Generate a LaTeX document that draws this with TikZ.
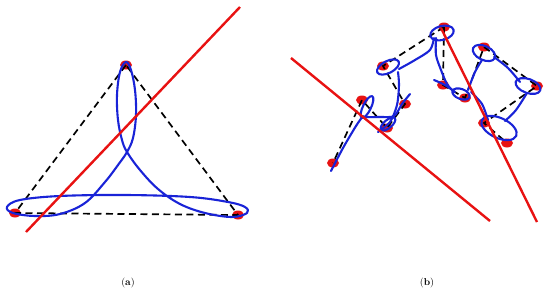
\documentclass[tikz,border=0pt]{standalone}
\usetikzlibrary{shapes.geometric}
\definecolor{cblue}{RGB}{25,35,215}
\definecolor{cred}{RGB}{232,18,18}
\begin{document}
\begin{tikzpicture}[x=1pt,y=-1pt,
  vdot/.style={ellipse, fill=cred, minimum width=12pt, minimum height=9pt, inner sep=0pt},
  edge/.style={black, line width=1.7pt, dash pattern=on 7pt off 4.5pt},
  curve/.style={cblue, line width=2.1pt, line join=round, line cap=round},
  axisline/.style={cred, line width=2.4pt},
  lab/.style={font=\normalsize, inner sep=0pt}]
\useasboundingbox (0,0) rectangle (550,295);

% ---------------- panel (a)
\node[vdot] (a1) at (126,65) {};
\node[vdot] (a2) at (15,213) {};
\node[vdot] (a3) at (238,215) {};
\draw[edge] (a1.center) -- (a2.center) -- (a3.center) -- cycle;
\draw[curve] plot[smooth cycle, tension=0.6] coordinates {
 (126,62) (120,72) (117,95) (118,120) (122,140) (127,152) (140,170) (158,189)
 (180,204) (205,213) (232,217) (247,213) (245,207) (228,202) (190,197)
 (126,195) (60,196) (20,200) (7,207) (13,213) (35,216) (60,214) (85,203)
 (105,182) (118,165) (127,152) (133,138) (136,115) (135,90) (131,70)};
\coordinate (ra1) at (26,232);
\coordinate (ra2) at (240,7);
\draw[axisline] (ra1) -- (ra2);
\node[lab] (la) at (128,283) {(\textbf{a})};

% ---------------- panel (b)
\node[vdot] (A) at (444,27) {};
\node[vdot] (B) at (383,66) {};
\node[vdot] (C) at (362,100) {};
\node[vdot] (D) at (333,163) {};
\node[vdot] (E) at (387,128) {};
\node[vdot] (F) at (405,104) {};
\node[vdot] (G) at (443,85) {};
\node[vdot] (H) at (465,98) {};
\node[vdot] (I) at (484,47) {};
\node[vdot] (J) at (537,86) {};
\node[vdot] (K) at (484,123) {};
\node[vdot] (L) at (507,143) {};
\draw[edge] (A.center) -- (B.center) -- (F.center) -- (E.center) -- (C.center) -- (D.center);
\draw[edge] (A.center) -- (G.center) -- (H.center) -- (I.center) -- (J.center) -- (K.center) -- (L.center);

% loops
\draw[curve, rotate around={64:(367,107)}] (367,107) ellipse [x radius=12, y radius=4];
\draw[curve, rotate around={27:(388,67)}] (388,67) ellipse [x radius=12, y radius=6];
\draw[curve, rotate around={15:(442,33)}] (442,33) ellipse [x radius=12, y radius=7];
\draw[curve, rotate around={-20:(461,94)}] (461,94) ellipse [x radius=9, y radius=5];
\draw[curve, rotate around={-25:(484,53)}] (484,53) ellipse [x radius=12, y radius=7];
\draw[curve, rotate around={-20:(528,86)}] (528,86) ellipse [x radius=13, y radius=7];
\draw[curve, rotate around={-25:(499,128)}] (499,128) ellipse [x radius=19, y radius=10];
\draw[curve, rotate around={40:(388,124)}] (388,124) ellipse [x radius=9, y radius=4];
% strands
\draw[curve] plot[smooth] coordinates {(331,171) (343,148) (356,126) (363,116)};
\draw[curve] plot[smooth] coordinates {(362,117) (380,117) (394,116) (402,104) (410,94)};
\draw[curve] plot[smooth] coordinates {(378,132) (390,122) (397,105) (399,85) (398,72)};
\draw[curve] plot[smooth] coordinates {(399,69) (415,60) (430,50) (434,38)};
\draw[curve] plot[smooth] coordinates {(436,38) (436,55) (441,70) (447,84) (454,92)};
\draw[curve] plot[smooth] coordinates {(434,80) (445,85) (455,92)};
\draw[curve] plot[smooth] coordinates {(468,90) (475,72) (482,60)};
\draw[curve] plot[smooth] coordinates {(494,57) (508,68) (520,82)};
\draw[curve] plot[smooth] coordinates {(527,93) (516,110) (505,121)};
\draw[curve] plot[smooth] coordinates {(488,120) (482,104) (471,92)};

\coordinate (rb1) at (291,58);
\coordinate (rb2) at (490,221);
\coordinate (rb3) at (441,28);
\coordinate (rb4) at (537,222);
\draw[axisline] (rb1) -- (rb2);
\draw[axisline] (rb3) -- (rb4);
\node[lab] (lb) at (427,283) {(\textbf{b})};
\end{tikzpicture}
\end{document}
